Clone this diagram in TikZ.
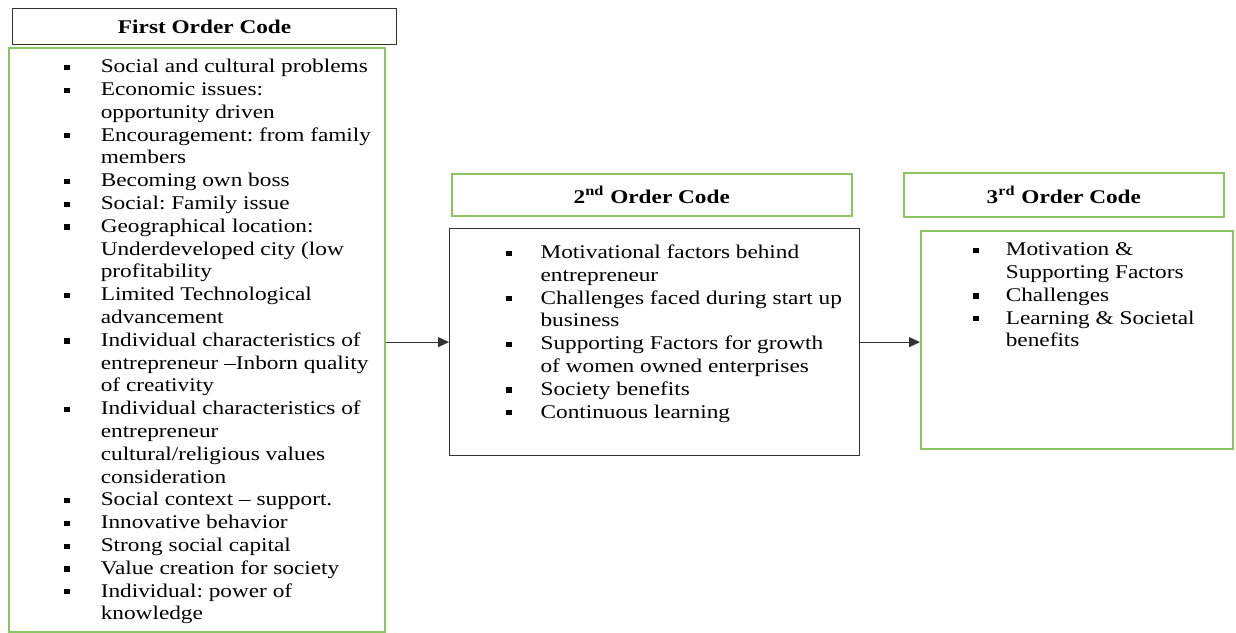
\documentclass[tikz,border=0pt]{standalone}
\usepackage{fontspec}
\setmainfont{Liberation Serif}[FakeStretch=1.2]
\usetikzlibrary{arrows.meta}
\frenchspacing

\definecolor{codegreen}{RGB}{140,198,96}
\definecolor{codeblack}{RGB}{50,50,50}
\newcommand{\sqbullet}{\rule[0.3ex]{3pt}{2.6pt}}
\newcommand{\listfont}{\fontsize{9.7}{11.4}\selectfont}

\tikzset{
    codebox/.style={
           rectangle,
           draw=codeblack, line width=0.6pt,
           inner sep=0pt,
           anchor=north west
           },
    greenbox/.style={
           codebox,
           draw=codegreen, line width=0.8pt
           },
    header/.style={
           minimum height=#1,
           font=\listfont\bfseries,
           text centered
           },
    flow/.style={
           draw=codeblack, line width=0.6pt,
           -{Triangle[length=5.5pt,width=5pt]}
           },
}

\begin{document}
\begin{tikzpicture}[x=0.5pt,y=-0.5pt]
            \useasboundingbox (0,0) rectangle (1236,632);

%            headers
             \node[codebox, header=18pt, minimum width=192pt] (firsthdr) at (12,8)
             {First Order Code};
             \node[greenbox, header=21pt, minimum width=200pt] (sechdr) at (451,173)
             {2\textsuperscript{nd} Order Code};
             \node[greenbox, header=22pt, minimum width=160pt] (thirdhdr) at (903,172)
             {3\textsuperscript{rd} Order Code};

%            first order codes
             \node[greenbox] (firstbox) at (8,47)
             {\begin{minipage}[c][292pt][t]{188pt}
              \listfont\vspace*{4.5pt}%
              \begin{tabular}{@{\hspace{27.5pt}}l@{\hspace{15.5pt}}l@{}}
                \sqbullet & Social and cultural problems\\
                \sqbullet & Economic issues:\\
                          & opportunity driven\\
                \sqbullet & Encouragement: from family\\
                          & members\\
                \sqbullet & Becoming own boss\\
                \sqbullet & Social: Family issue\\
                \sqbullet & Geographical location:\\
                          & Underdeveloped city (low\\
                          & profitability\\
                \sqbullet & Limited Technological\\
                          & advancement\\
                \sqbullet & Individual characteristics of\\
                          & entrepreneur --Inborn quality\\
                          & of creativity\\
                \sqbullet & Individual characteristics of\\
                          & entrepreneur\\
                          & cultural/religious values\\
                          & consideration\\
                \sqbullet & Social context -- support.\\
                \sqbullet & Innovative behavior\\
                \sqbullet & Strong social capital\\
                \sqbullet & Value creation for society\\
                \sqbullet & Individual: power of\\
                          & knowledge
              \end{tabular}
              \end{minipage}};

%            second order codes
             \node[codebox] (secbox) at (449,228)
             {\begin{minipage}[c][113.5pt][t]{205pt}
              \listfont\vspace*{7pt}%
              \begin{tabular}{@{\hspace{28pt}}l@{\hspace{14.5pt}}l@{}}
                \sqbullet & Motivational factors behind\\
                          & entrepreneur\\
                \sqbullet & Challenges faced during start up\\
                          & business\\
                \sqbullet & Supporting Factors for growth\\
                          & of women owned enterprises\\
                \sqbullet & Society benefits\\
                \sqbullet & Continuous learning
              \end{tabular}
              \end{minipage}};

%            third order codes
             \node[greenbox] (thirdbox) at (920,230)
             {\begin{minipage}[c][109pt][t]{156pt}
              \listfont\vspace*{4.5pt}%
              \begin{tabular}{@{\hspace{26pt}}l@{\hspace{13.5pt}}l@{}}
                \sqbullet & Motivation \&\\
                          & Supporting Factors\\
                \sqbullet & Challenges\\
                \sqbullet & Learning \& Societal\\
                          & benefits
              \end{tabular}
              \end{minipage}};

             \path
             (firstbox.east |- secbox.west) edge[flow] (secbox.west)
             (secbox.east) edge[flow] (thirdbox.west |- secbox.east);

\end{tikzpicture}
\end{document}
